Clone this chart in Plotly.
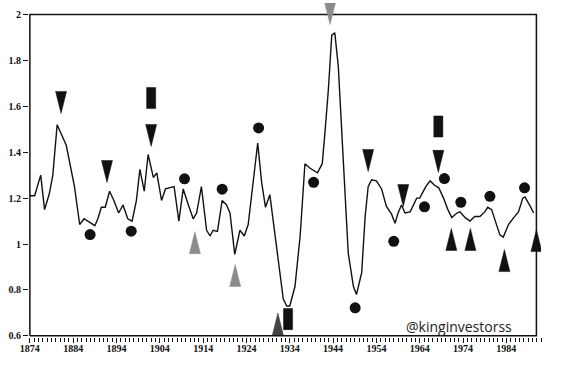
import plotly.graph_objects as go

# ---- line data (year, ratio) ----
years = [1874.0, 1875.1, 1876.5, 1877.4, 1878.5, 1879.3, 1880.3, 1881.2, 1882.4, 1884.3,
         1885.5, 1886.5, 1887.8, 1889.0, 1889.7, 1890.5, 1891.4, 1892.4, 1893.4, 1894.5,
         1895.5, 1896.6, 1897.6, 1898.6, 1899.4, 1900.4, 1901.3, 1902.5, 1903.3, 1904.4,
         1905.3, 1906.3, 1907.3, 1908.4, 1909.4, 1910.6, 1911.7, 1912.5, 1913.6, 1914.8,
         1915.6, 1916.3, 1917.3, 1918.4, 1919.4, 1920.2, 1921.3, 1922.5, 1923.5, 1924.4,
         1925.6, 1926.6, 1927.5, 1928.4, 1929.4, 1930.6, 1931.7, 1932.5, 1933.3, 1934.0,
         1935.2, 1936.4, 1937.5, 1938.7, 1940.4, 1941.5, 1942.1, 1942.9, 1943.7, 1944.4,
         1945.2, 1946.0, 1946.7, 1947.5, 1948.7, 1949.4, 1950.6, 1951.4, 1952.1, 1952.9,
         1954.0, 1955.2, 1956.3, 1957.5, 1958.3, 1959.0, 1959.8, 1960.6, 1961.8, 1963.3,
         1964.0, 1965.4, 1966.4, 1967.5, 1968.4, 1969.5, 1970.5, 1971.4, 1972.6, 1973.3,
         1974.5, 1975.6, 1976.7, 1977.9, 1979.0, 1979.7, 1980.6, 1981.8, 1982.5, 1983.3,
         1984.5, 1985.7, 1986.8, 1987.8, 1988.3, 1989.5, 1990.3]
ratio = [1.21, 1.21, 1.30, 1.15, 1.22, 1.30, 1.52, 1.48, 1.43, 1.25,
         1.085, 1.11, 1.095, 1.08, 1.11, 1.16, 1.16, 1.23, 1.19, 1.135,
         1.17, 1.11, 1.10, 1.19, 1.325, 1.23, 1.39, 1.29, 1.31, 1.19,
         1.24, 1.245, 1.25, 1.10, 1.24, 1.17, 1.11, 1.135, 1.25, 1.06,
         1.035, 1.06, 1.055, 1.19, 1.17, 1.135, 0.955, 1.06, 1.035, 1.085,
         1.295, 1.44, 1.27, 1.16, 1.215, 1.035, 0.875, 0.76, 0.73, 0.73,
         0.815, 1.035, 1.35, 1.33, 1.31, 1.35, 1.48, 1.67, 1.91, 1.92,
         1.775, 1.485, 1.19, 0.96, 0.815, 0.78, 0.875, 1.12, 1.25, 1.28,
         1.275, 1.24, 1.165, 1.13, 1.09, 1.135, 1.17, 1.135, 1.14, 1.20,
         1.20, 1.25, 1.275, 1.255, 1.245, 1.20, 1.15, 1.115, 1.135, 1.14,
         1.115, 1.10, 1.12, 1.12, 1.14, 1.16, 1.15, 1.085, 1.04, 1.03,
         1.085, 1.115, 1.14, 1.20, 1.205, 1.165, 1.135]

# ---- signal markers ----
circle_x = [1887.9, 1897.4, 1909.7, 1918.4, 1926.8, 1939.5, 1949.1, 1958.0, 1965.1,
            1969.7, 1973.5, 1980.2, 1988.2]
circle_y = [1.041, 1.056, 1.284, 1.239, 1.506, 1.269, 0.722, 1.012, 1.162,
            1.285, 1.182, 1.208, 1.245]

down_x = [1881.2, 1891.8, 1902.0, 1952.1, 1960.2, 1968.3]          # apex positions
down_y = [1.569, 1.268, 1.425, 1.316, 1.163, 1.312]
down_gray_x = [1943.3]
down_gray_y = [1.956]

up_x = [1971.3, 1975.7, 1983.55, 1990.94]
up_y = [1.068, 1.068, 0.976, 1.063]
up_dark_x = [1931.25]
up_dark_y = [0.700]
up_gray_x = [1912.1, 1921.4]
up_gray_y = [1.054, 0.911]

rect_x = [1902.0, 1933.6, 1968.3]
rect_y = [1.636, 0.673, 1.512]

# ---- axis ticks ----
y_ticks = [2.0, 1.8, 1.6, 1.4, 1.2, 1.0, 0.8, 0.6]
y_labels = ["2", "1.8", "1.6", "1.4", "1.2", "1", "0.8", "0.6"]
x_ticks = [1874, 1884, 1894, 1904, 1914, 1924, 1934, 1944, 1954, 1964, 1974, 1984]
x_labels = [str(v) for v in x_ticks]

X_START, X_END = 1874, 1990.94
Y_BOTTOM, Y_TOP = 0.6, 2.0

# style constants (in data units)
TRI_HW, TRI_H = 1.27, 0.096
RECT_HW, RECT_HH = 1.05, 0.046
INK = "#111111"


def triangles(xs, ys, direction):
    px, py = [], []
    for x, y in zip(xs, ys):
        base = y + TRI_H if direction == "down" else y - TRI_H
        px += [x - TRI_HW, x, x + TRI_HW, x - TRI_HW, None]
        py += [base, y, base, base, None]
    return px, py


def rects(xs, ys):
    px, py = [], []
    for x, y in zip(xs, ys):
        px += [x - RECT_HW, x + RECT_HW, x + RECT_HW, x - RECT_HW, x - RECT_HW, None]
        py += [y - RECT_HH, y - RECT_HH, y + RECT_HH, y + RECT_HH, y - RECT_HH, None]
    return px, py


fig = go.Figure()

# frame box
fig.add_trace(go.Scatter(x=[X_START, X_START, X_END, X_END, X_START],
                         y=[Y_BOTTOM, Y_TOP, Y_TOP, Y_BOTTOM, Y_BOTTOM],
                         mode="lines", line=dict(color=INK, width=1.5), hoverinfo="skip"))

fig.add_trace(go.Scatter(x=years, y=ratio, mode="lines",
                         line=dict(color=INK, width=1.4), hoverinfo="skip"))


def add_poly(px, py, color):
    fig.add_trace(go.Scatter(x=px, y=py, mode="lines", fill="toself",
                             fillcolor=color, line=dict(color=color, width=0.5),
                             hoverinfo="skip"))


add_poly(*triangles(down_x, down_y, "down"), INK)
add_poly(*triangles(down_gray_x, down_gray_y, "down"), "#8c8c8c")
add_poly(*triangles(up_x, up_y, "up"), INK)
add_poly(*triangles(up_dark_x, up_dark_y, "up"), "#444444")
add_poly(*triangles(up_gray_x, up_gray_y, "up"), "#8c8c8c")
add_poly(*rects(rect_x, rect_y), INK)

fig.add_trace(go.Scatter(x=circle_x, y=circle_y, mode="markers",
                         marker=dict(symbol="circle", size=11, color=INK),
                         cliponaxis=False, hoverinfo="skip"))

tick_font = dict(family="Liberation Serif", size=10, color=INK, weight="bold")

fig.update_layout(
    width=562, height=371,
    margin=dict(l=29, r=21, t=3, b=34),
    paper_bgcolor="white", plot_bgcolor="white",
    showlegend=False,
    xaxis=dict(range=[1873.8, 1992], showgrid=False, zeroline=False, showline=False,
               tickmode="array", tickvals=x_ticks, ticktext=x_labels,
               ticks="outside", ticklen=5, tickwidth=1, tickcolor=INK,
               tickfont=tick_font, ticklabelstandoff=-3,
               minor=dict(tickmode="linear", tick0=1874, dtick=1, ticks="outside",
                          ticklen=4, tickwidth=1, tickcolor=INK, showgrid=False)),
    yaxis=dict(range=[0.595, 2.05], showgrid=False, zeroline=False, showline=False,
               tickmode="array", tickvals=y_ticks, ticktext=y_labels,
               ticks="outside", ticklen=5, tickwidth=1, tickcolor=INK,
               tickfont=tick_font),
    annotations=[dict(text="@kinginvestorss", xref="paper", yref="paper",
                      x=0.84, y=0.03, xanchor="center", yanchor="middle",
                      showarrow=False,
                      font=dict(family="Open Sans", size=14, color="#222222"))],
)

fig.write_html("out.html", config={"displayModeBar": False},
               post_script="document.body.style.margin='0';")
